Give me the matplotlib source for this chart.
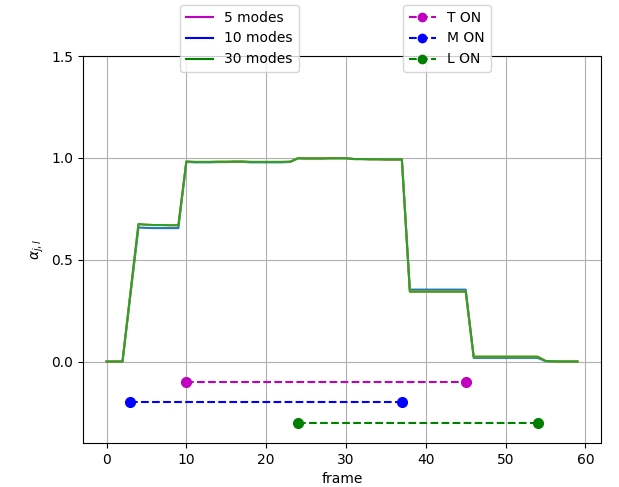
import matplotlib
matplotlib.use("Agg")
import matplotlib.pyplot as plt
from matplotlib.lines import Line2D
import numpy as np

frames = np.arange(60)

alpha_5 = [0.0, 0.0, 0.0, 0.33, 0.658, 0.656, 0.655, 0.655, 0.655, 0.655,
           0.98, 0.978, 0.978, 0.978, 0.979, 0.979, 0.98, 0.98, 0.978, 0.978,
           0.978, 0.978, 0.978, 0.98, 0.998, 0.997, 0.997, 0.997, 0.998, 0.998,
           0.998, 0.994, 0.994, 0.993, 0.993, 0.992, 0.992, 0.992, 0.353, 0.353,
           0.353, 0.353, 0.353, 0.353, 0.353, 0.353, 0.018, 0.018, 0.018, 0.018,
           0.018, 0.018, 0.018, 0.018, 0.018, 0.002, 0.0, 0.0, 0.0, 0.0]

alpha_10 = [0.0, 0.0, 0.0, 0.34, 0.674, 0.671, 0.67, 0.67, 0.669, 0.669,
            0.982, 0.98, 0.98, 0.98, 0.981, 0.981, 0.982, 0.982, 0.98, 0.98,
            0.98, 0.98, 0.98, 0.981, 0.998, 0.997, 0.997, 0.997, 0.998, 0.998,
            0.998, 0.994, 0.994, 0.993, 0.993, 0.992, 0.992, 0.992, 0.344, 0.344,
            0.344, 0.344, 0.344, 0.344, 0.344, 0.344, 0.023, 0.023, 0.023, 0.023,
            0.023, 0.023, 0.023, 0.023, 0.023, 0.003, 0.001, 0.0, 0.0, 0.0]

alpha_30 = [0.0, 0.0, 0.0, 0.34, 0.675, 0.672, 0.67, 0.67, 0.669, 0.669,
            0.982, 0.98, 0.98, 0.98, 0.981, 0.981, 0.982, 0.982, 0.98, 0.98,
            0.98, 0.98, 0.98, 0.981, 0.998, 0.997, 0.997, 0.997, 0.998, 0.998,
            0.998, 0.994, 0.994, 0.993, 0.993, 0.992, 0.992, 0.992, 0.343, 0.343,
            0.343, 0.343, 0.343, 0.343, 0.343, 0.343, 0.024, 0.024, 0.024, 0.024,
            0.024, 0.024, 0.024, 0.024, 0.024, 0.003, 0.001, 0.0, 0.0, 0.0]

# ON intervals: (start frame, end frame) and the level they are drawn at
t_on = [10, 45]
m_on = [3, 37]
l_on = [24, 54]
t_level, m_level, l_level = -0.1, -0.2, -0.3

fig = plt.figure(figsize=(6.19, 4.87), dpi=100)
ax = fig.add_axes([83 / 619, 44 / 487, (601 - 83) / 619, (443 - 56) / 487])

ax.plot(frames, alpha_5)
ax.plot(frames, alpha_10)
ax.plot(frames, alpha_30)

ax.plot(t_on, [t_level] * 2, "m--o", markersize=7)
ax.plot(m_on, [m_level] * 2, "b--o", markersize=7)
ax.plot(l_on, [l_level] * 2, "g--o", markersize=7)

ax.set_ylim(-0.4, 1.5)
ax.set_yticks([0.0, 0.5, 1.0, 1.5])
ax.set_xticks([0, 10, 20, 30, 40, 50, 60])
ax.grid(True)
ax.set_xlabel("frame")
ax.set_ylabel(r"$\alpha_{j,l}$")

modes_handles = [Line2D([], [], color="m"), Line2D([], [], color="b"),
                 Line2D([], [], color="g")]
fig.legend(modes_handles, ["5 modes", "10 modes", "30 modes"],
           loc="upper left", bbox_to_anchor=(180 / 619, 1 - 5 / 487),
           borderaxespad=0)

on_handles = [Line2D([], [], color="m", ls="--", marker="o"),
              Line2D([], [], color="b", ls="--", marker="o"),
              Line2D([], [], color="g", ls="--", marker="o")]
fig.legend(on_handles, ["T ON", "M ON", "L ON"],
           loc="upper left", bbox_to_anchor=(403 / 619, 1 - 5 / 487),
           borderaxespad=0)

fig.savefig("out.png", dpi=100)
